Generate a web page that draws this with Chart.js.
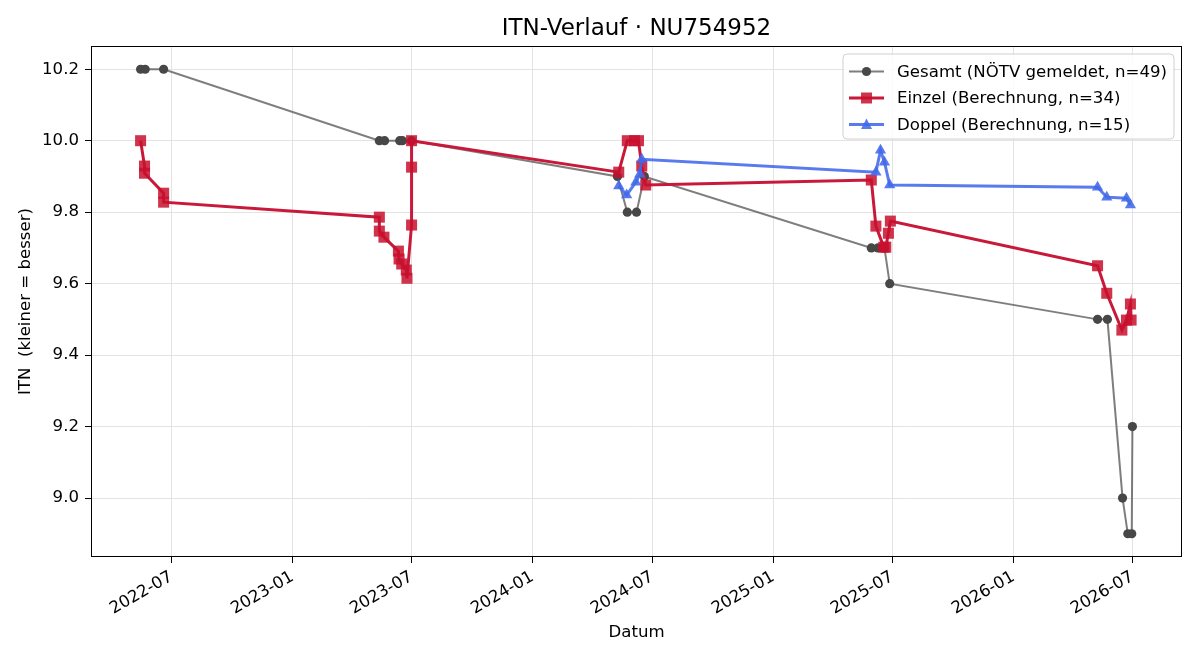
<!DOCTYPE html>
<html>
<head>
<meta charset="utf-8">
<title>ITN-Verlauf</title>
<script src="https://cdn.jsdelivr.net/npm/chart.js@4.4.1/dist/chart.umd.min.js"></script>
<style>
  html, body { margin: 0; padding: 0; background: #fff; }
</style>
</head>
<body>
<canvas id="itnChart" width="1200" height="660"></canvas>
<script>
// Werte
const gesamtDates = [
  '2022-05-15', '2022-05-22', '2022-06-19',
  '2023-05-13', '2023-05-21', '2023-06-13', '2023-06-17', '2023-07-01',
  '2024-05-09', '2024-05-24', '2024-06-07', '2024-06-19',
  '2025-05-30', '2025-06-09', '2025-06-19', '2025-06-27',
  '2026-05-09', '2026-05-24', '2026-06-16', '2026-06-24', '2026-06-30', '2026-07-01'
];
const gesamtValues = [
  10.2, 10.2, 10.2,
  10.0, 10.0, 10.0, 10.0, 10.0,
  9.9, 9.8, 9.8, 9.9,
  9.7, 9.7, 9.7, 9.6,
  9.5, 9.5, 9.0, 8.9, 8.9, 9.2
];

const einzelDates = [
  '2022-05-15', '2022-05-21', '2022-05-21', '2022-06-19', '2022-06-19',
  '2023-05-13', '2023-05-13', '2023-05-20', '2023-06-11', '2023-06-12', '2023-06-16',
  '2023-06-23', '2023-06-24', '2023-07-01', '2023-07-01', '2023-07-01',
  '2024-05-11', '2024-05-24', '2024-06-04', '2024-06-10', '2024-06-15', '2024-06-21',
  '2025-05-30', '2025-06-06', '2025-06-18', '2025-06-21', '2025-06-25', '2025-06-28',
  '2026-05-09', '2026-05-23', '2026-06-15', '2026-06-22', '2026-06-28', '2026-06-29'
];
const einzelValues = [
  10.0, 9.929, 9.909, 9.853, 9.828,
  9.786, 9.747, 9.730, 9.691, 9.669, 9.655,
  9.638, 9.615, 9.764, 9.926, 10.0,
  9.912, 10.0, 10.0, 10.0, 9.929, 9.876,
  9.890, 9.761, 9.702, 9.702, 9.741, 9.775,
  9.650, 9.573, 9.470, 9.498, 9.543, 9.498
];

const doppelDates = [
  '2024-05-11', '2024-05-23', '2024-06-06', '2024-06-12', '2024-06-15',
  '2025-06-06', '2025-06-13', '2025-06-19', '2025-06-27',
  '2026-05-09', '2026-05-23', '2026-06-22', '2026-06-28'
];
const doppelValues = [
  9.873, 9.848, 9.884, 9.906, 9.948,
  9.912, 9.973, 9.940, 9.876,
  9.870, 9.842, 9.839, 9.820
];

const xTickLabels = ['2022-07', '2023-01', '2023-07', '2024-01', '2024-07', '2025-01', '2025-07', '2026-01', '2026-07'];
const yTickValues = [9.0, 9.2, 9.4, 9.6, 9.8, 10.0, 10.2];

const seriesLabels = [
  'Gesamt (NÖTV gemeldet, n=49)',
  'Einzel (Berechnung, n=34)',
  'Doppel (Berechnung, n=15)'
];

const FONT = 'DejaVu Sans';
const grayLine = 'rgba(90,90,90,0.78)';
const grayDot = '#474747';
const redLine = '#c8193a';
const redMark = 'rgba(200,16,46,0.85)';
const blueLine = 'rgba(65,105,235,0.88)';
const blueMark = 'rgba(65,105,235,0.88)';

const toTime = s => Date.parse(s + 'T00:00:00Z');
const toPoints = (dates, values) => dates.map((d, i) => ({ x: toTime(d), y: values[i] }));

// matplotlib-artige 5%-Ränder
const allTimes = [...gesamtDates, ...einzelDates, ...doppelDates].map(toTime);
const tMin = Math.min(...allTimes), tMax = Math.max(...allTimes);
const tPad = (tMax - tMin) * 0.05;
const allVals = [...gesamtValues, ...einzelValues, ...doppelValues];
const vMin = Math.min(...allVals), vMax = Math.max(...allVals);
const vPad = (vMax - vMin) * 0.05;

// Rahmen und Legende wie bei matplotlib
const frameLegend = {
  id: 'frameLegend',
  afterDraw(chart) {
    const { ctx, chartArea: a } = chart;
    ctx.save();
    ctx.strokeStyle = '#000';
    ctx.lineWidth = 1;
    ctx.strokeRect(Math.round(a.left) + 0.5, Math.round(a.top) + 0.5,
      Math.round(a.right - a.left) - 1, Math.round(a.bottom - a.top) - 1);

    // Legende
    const bx = 843, by = 54, bw = 331, bh = 85, r = 4;
    ctx.beginPath();
    ctx.moveTo(bx + r, by);
    ctx.arcTo(bx + bw, by, bx + bw, by + bh, r);
    ctx.arcTo(bx + bw, by + bh, bx, by + bh, r);
    ctx.arcTo(bx, by + bh, bx, by, r);
    ctx.arcTo(bx, by, bx + bw, by, r);
    ctx.closePath();
    ctx.fillStyle = 'rgba(255,255,255,0.85)';
    ctx.fill();
    ctx.strokeStyle = '#d0d0d0';
    ctx.stroke();

    const rows = [71.5, 98, 124.5];
    const lines = [[grayLine, 2], [redLine, 3], [blueLine, 3]];
    ctx.font = '16.6px ' + FONT;
    ctx.textBaseline = 'middle';
    rows.forEach((y, i) => {
      ctx.strokeStyle = lines[i][0];
      ctx.lineWidth = lines[i][1];
      ctx.beginPath();
      ctx.moveTo(849, y);
      ctx.lineTo(884, y);
      ctx.stroke();
      const cx = 866.5;
      if (i === 0) {
        ctx.fillStyle = grayDot;
        ctx.beginPath();
        ctx.arc(cx, y, 4.6, 0, Math.PI * 2);
        ctx.fill();
      } else if (i === 1) {
        ctx.fillStyle = redMark;
        ctx.fillRect(cx - 5.5, y - 5.5, 11, 11);
      } else {
        ctx.fillStyle = blueMark;
        ctx.beginPath();
        ctx.moveTo(cx, y - 6);
        ctx.lineTo(cx + 5.5, y + 4.5);
        ctx.lineTo(cx - 5.5, y + 4.5);
        ctx.closePath();
        ctx.fill();
      }
      ctx.fillStyle = '#000';
      ctx.fillText(seriesLabels[i], 897, y + 1);
    });
    ctx.restore();
  }
};

Chart.defaults.font.family = FONT;
Chart.defaults.color = '#000';

new Chart(document.getElementById('itnChart'), {
  type: 'line',
  data: {
    datasets: [
      {
        label: seriesLabels[0],
        data: toPoints(gesamtDates, gesamtValues),
        borderColor: grayLine,
        borderWidth: 2,
        pointStyle: 'circle',
        pointRadius: 4.6,
        pointBackgroundColor: grayDot,
        pointBorderColor: grayDot,
        pointBorderWidth: 0,
        order: 3
      },
      {
        label: seriesLabels[1],
        data: toPoints(einzelDates, einzelValues),
        borderColor: redLine,
        borderWidth: 3,
        pointStyle: 'rect',
        pointRadius: 7.8,
        pointBackgroundColor: redMark,
        pointBorderColor: redMark,
        pointBorderWidth: 0,
        order: 2
      },
      {
        label: seriesLabels[2],
        data: toPoints(doppelDates, doppelValues),
        borderColor: blueLine,
        borderWidth: 3,
        pointStyle: 'triangle',
        pointRadius: 6.5,
        pointBackgroundColor: blueMark,
        pointBorderColor: blueMark,
        pointBorderWidth: 0,
        order: 1
      }
    ]
  },
  options: {
    responsive: false,
    animation: false,
    layout: { padding: { left: 0, right: 18, top: 0, bottom: 0 } },
    plugins: {
      legend: { display: false },
      tooltip: { enabled: false },
      title: {
        display: true,
        fullSize: false,
        text: 'ITN-Verlauf · NU754952',
        font: { size: 23, weight: 'normal' },
        color: '#000',
        padding: { top: 15, bottom: 3.4 }
      }
    },
    scales: {
      x: {
        type: 'linear',
        min: tMin - tPad,
        max: tMax + tPad,
        afterBuildTicks: scale => {
          scale.ticks = xTickLabels.map(l => ({ value: toTime(l + '-01') }));
        },
        afterFit: scale => { scale.height = 103; },
        ticks: {
          autoSkip: false,
          minRotation: 30,
          maxRotation: 30,
          padding: 4,
          font: { size: 16.6 },
          callback: (v, i) => xTickLabels[i]
        },
        grid: { color: '#e3e3e3', tickColor: '#000', tickLength: 6, lineWidth: 1 },
        border: { display: false },
        title: { display: true, text: 'Datum', font: { size: 16.6 }, padding: { top: 0, bottom: 17 } }
      },
      y: {
        min: vMin - vPad,
        max: vMax + vPad,
        afterBuildTicks: scale => {
          scale.ticks = yTickValues.map(v => ({ value: v }));
        },
        afterFit: scale => { scale.width = 91; },
        ticks: {
          padding: 6,
          font: { size: 16.6 },
          callback: v => v.toFixed(1)
        },
        grid: { color: '#e3e3e3', tickColor: '#000', tickLength: 6, lineWidth: 1 },
        border: { display: false },
        title: { display: true, text: 'ITN  (kleiner = besser)', font: { size: 16.6 }, padding: { top: 16, bottom: 0 } }
      }
    }
  },
  plugins: [frameLegend]
});
</script>
</body>
</html>
